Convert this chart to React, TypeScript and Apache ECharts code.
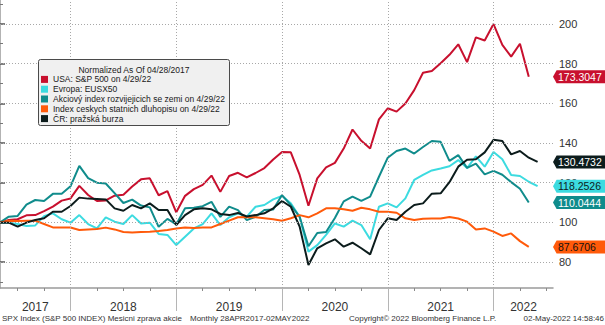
import React, { useEffect, useRef } from "react";
import * as echarts from "echarts";

// ---- data (monthly, index 0 = end of April 2017) ----
const seriesNames = [
  "USA: S&P 500 on 4/29/22",
  "Evropa: EUSX50",
  "Akciový index rozvijejicich se zemi on 4/29/22",
  "Index ceskych statnich dluhopisu on 4/29/22",
  "ČR: pražská burza",
];

const usaSP500 = [
  100, 101.2, 101.6, 103.6, 103.7, 105.7, 108.0, 111.0, 112.1,
  118.4, 113.8, 110.8, 111.1, 113.5, 114.0, 118.1, 121.7, 122.2, 113.7, 115.8, 105.1,
  113.4, 116.8, 118.9, 123.6, 115.4, 123.4, 125.0, 122.7, 124.9, 127.4, 131.7, 135.5,
  135.3, 123.9, 108.4, 122.2, 127.7, 130.0, 137.2, 146.8, 141.1, 137.2, 151.9, 157.5,
  155.8, 159.9, 166.6, 175.4, 176.3, 180.2, 184.4, 189.7, 180.7, 193.2, 191.6, 199.9,
  189.4, 183.5, 190.0, 173.3047,
];

const evropaEUSX50 = [
  100, 99.9, 99.2, 98.2, 98.5, 103.2, 104.6, 101.6, 99.9,
  103.7, 99.2, 97.0, 102.6, 100.4, 99.2, 103.7, 99.5, 99.9, 94.2, 93.7, 88.6,
  92.8, 97.0, 99.2, 104.6, 98.7, 102.6, 104.6, 102.9, 107.9, 108.8, 111.6, 113.3,
  109.6, 102.9, 85.3, 88.6, 93.7, 99.5, 97.9, 100.9, 98.7, 91.5, 107.9, 109.6,
  107.6, 112.1, 121.4, 123.9, 126.2, 127.2, 128.3, 131.4, 127.4, 133.3, 128.1, 135.5,
  131.8, 123.9, 123.4, 120.5, 118.2526,
];

const emergingMarkets = [
  100, 102.9, 103.3, 109.0, 111.3, 110.8, 114.4, 114.5, 118.2,
  128.5, 122.3, 120.0, 119.6, 114.8, 109.8, 111.5, 108.5, 107.6, 97.8, 101.8, 99.0,
  107.2, 107.4, 108.2, 110.4, 102.8, 108.0, 106.2, 101.2, 102.9, 106.3, 106.5, 113.8,
  108.7, 102.8, 88.0, 94.7, 95.2, 102.2, 110.6, 113.0, 110.9, 113.0, 123.0, 132.6,
  136.0, 137.2, 134.7, 138.0, 141.0, 140.6, 131.0, 133.9, 127.5, 129.6, 124.2, 126.0,
  124.0, 120.3, 117.0, 110.0444,
];

const czechGovBonds = [
  100, 100.9, 100.7, 100.9, 100.9, 99.2, 97.5, 97.5, 97.5,
  96.2, 96.5, 96.7, 97.4, 96.5, 95.2, 95.0, 95.2, 95.3, 95.7, 96.2, 97.0,
  97.5, 97.2, 97.5, 97.5, 99.2, 100.9, 102.6, 102.8, 102.6, 102.1, 101.6, 100.9,
  102.1, 103.7, 102.6, 104.6, 107.1, 107.1, 106.6, 105.9, 107.4, 106.6, 105.4, 105.4,
  104.9, 102.1, 101.2, 101.9, 102.0, 102.0, 102.7, 102.0, 100.4, 96.5, 97.0, 95.4,
  93.2, 94.5, 90.6, 87.6706,
];

const pragueExchange = [
  100, 99.9, 97.9, 99.9, 101.2, 102.1, 105.4, 105.4, 108.3,
  112.5, 112.0, 111.8, 111.6, 107.1, 105.9, 108.8, 107.1, 109.6, 106.3, 106.3, 98.7,
  103.7, 106.6, 107.1, 106.6, 104.3, 103.7, 104.8, 103.0, 103.7, 104.6, 107.1, 110.8,
  107.9, 97.9, 78.6, 87.0, 89.5, 91.5, 87.8, 89.8, 87.0, 83.9, 96.2, 102.1,
  101.2, 105.4, 108.8, 109.6, 114.5, 114.7, 120.3, 128.1, 131.6, 131.8, 135.3, 141.6,
  141.0, 134.3, 136.0, 132.6, 130.4732,
];

const yearLabels = ["2017", "2018", "2019", "2020", "2021", "2022"];
const yearLabelPositions = [4, 14, 26, 38, 50, 59.4];
const yearBoundaries = [8, 20, 32, 44, 56];
const quarterTicks = [2, 5, 8, 11, 14, 17, 20, 23, 26, 29, 32, 35, 38, 41, 44, 47, 50, 53, 56, 59, 62];
const majorYTicks = [80, 100, 120, 140, 160, 180, 200];
const minorYTicks = [70, 90, 110, 130, 150, 170, 190, 210];

const legendTitle = "Normalized As Of 04/28/2017";
const footerLeft = "SPX Index (S&P 500 INDEX) Mesicni zprava akcie";
const footerRange = "Monthly 28APR2017-02MAY2022";
const footerCopyright = "Copyright© 2022 Bloomberg Finance L.P.";
const footerStamp = "02-May-2022 14:58:46";

const X_MAX = 62.75;
const Y_MIN = 67;
const Y_MAX = 212;
const FONT = "'Liberation Sans', Arial, sans-serif";

const lineColors = ["#c8102e", "#3cdbe0", "#108c8c", "#ff5a0a", "#0c1c1c"];
const tagTextColors = ["#ffffff", "#0c1c1c", "#ffffff", "#111111", "#ffffff"];
const allSeries = [usaSP500, evropaEUSX50, emergingMarkets, czechGovBonds, pragueExchange];

const TAG_PATH = "path://M0 6.5 L4 0 L60 0 L60 13 L4 13 Z";

function buildOption() {
  const lineSeries = allSeries.map((vals, k) => {
    const last = vals[vals.length - 1];
    return {
      name: seriesNames[k],
      type: "line",
      xAxisIndex: 0,
      yAxisIndex: 0,
      data: vals.map((v, i) => [i, v]),
      symbol: "none",
      z: 3,
      lineStyle: { color: lineColors[k], width: 2 },
      itemStyle: { color: lineColors[k] },
      emphasis: { disabled: true },
      markPoint: {
        silent: true,
        symbol: TAG_PATH,
        symbolSize: [54, 13],
        symbolKeepAspect: false,
        symbolOffset: [27, 0],
        itemStyle: { color: lineColors[k] },
        label: {
          show: true,
          position: "insideLeft",
          distance: 5,
          color: tagTextColors[k],
          fontSize: 10.5,
          fontFamily: FONT,
          formatter: () => last.toFixed(4),
        },
        data: [{ coord: [X_MAX, last], value: last }],
      },
    };
  });

  const gridLineSeries = {
    name: "grid",
    type: "line",
    data: [],
    z: 1,
    silent: true,
    markLine: {
      silent: true,
      symbol: ["none", "none"],
      label: { show: false },
      lineStyle: { color: "#a8a8a8", type: [1, 2], width: 1 },
      emphasis: { disabled: true },
      data: [
        ...yearBoundaries.map((x) => ({ xAxis: x })),
        ...majorYTicks.map((y) => ({ yAxis: y })),
      ],
    },
  };

  return {
    animation: false,
    grid: { left: 0, top: 0, width: 553, height: 288, containLabel: false, outerBoundsMode: "none" },
    legend: {
      data: seriesNames,
      orient: "vertical",
      left: 41,
      top: 74.5,
      padding: 0,
      itemGap: 0,
      itemWidth: 7,
      itemHeight: 7,
      icon: "rect",
      selectedMode: false,
      z: 8,
      textStyle: { fontSize: 8.5, color: "#1a1a1a", fontFamily: FONT, lineHeight: 9.8 },
    },
    xAxis: [
      {
        type: "value",
        min: 0,
        max: X_MAX,
        position: "bottom",
        axisLine: { show: true, onZero: false, lineStyle: { color: "#9a9a9a", width: 1.5 } },
        axisTick: { show: true, customValues: quarterTicks, length: 3, lineStyle: { color: "#8a8a8a" } },
        axisLabel: {
          show: true,
          customValues: yearLabelPositions,
          formatter: (v: number) => {
            const idx = yearLabelPositions.findIndex((p) => Math.abs(p - v) < 0.01);
            return idx >= 0 ? yearLabels[idx] : "";
          },
          margin: 13,
          fontSize: 12,
          color: "#333333",
          fontFamily: FONT,
        },
        splitLine: { show: false },
      },
      {
        type: "value",
        min: 0,
        max: X_MAX,
        position: "bottom",
        axisLine: { show: false, onZero: false },
        axisTick: { show: true, customValues: yearBoundaries, length: 23, lineStyle: { color: "#b5b5b5" } },
        axisLabel: { show: false },
        splitLine: { show: false },
      },
    ],
    yAxis: [
      {
        type: "value",
        position: "right",
        min: Y_MIN,
        max: Y_MAX,
        axisLine: { show: true, lineStyle: { color: "#9a9a9a", width: 1.5 } },
        axisTick: { show: true, customValues: majorYTicks, length: 5, lineStyle: { color: "#555555", width: 1.5 } },
        axisLabel: {
          show: true,
          customValues: majorYTicks,
          margin: 6,
          fontSize: 11,
          color: "#333333",
          fontFamily: FONT,
        },
        splitLine: { show: false },
      },
      {
        type: "value",
        position: "right",
        min: Y_MIN,
        max: Y_MAX,
        axisLine: { show: false },
        axisTick: { show: true, customValues: minorYTicks, length: 3, lineStyle: { color: "#777777" } },
        axisLabel: { show: false },
        splitLine: { show: false },
      },
    ],
    graphic: [
      {
        type: "rect",
        z: 6,
        shape: { x: 38.5, y: 59.5, width: 191, height: 66, r: 2 },
        style: { fill: "#f0f0f0", stroke: "#4a4a4a", lineWidth: 1 },
      },
      {
        type: "text",
        z: 7,
        x: 134,
        y: 69.5,
        style: {
          text: legendTitle,
          fontSize: 8.5,
          fontFamily: FONT,
          fill: "#1a1a1a",
          align: "center",
          verticalAlign: "middle",
        },
      },
      {
        type: "text",
        x: 2,
        y: 318,
        style: { text: footerLeft, fontSize: 8, fontFamily: FONT, fill: "#333333", verticalAlign: "middle" },
      },
      {
        type: "text",
        x: 190,
        y: 318,
        style: { text: footerRange, fontSize: 8, fontFamily: FONT, fill: "#333333", verticalAlign: "middle" },
      },
      {
        type: "text",
        x: 349,
        y: 318,
        style: { text: footerCopyright, fontSize: 8, fontFamily: FONT, fill: "#333333", verticalAlign: "middle" },
      },
      {
        type: "text",
        x: 604,
        y: 318,
        style: {
          text: footerStamp,
          fontSize: 8,
          fontFamily: FONT,
          fill: "#333333",
          align: "right",
          verticalAlign: "middle",
        },
      },
    ],
    series: [gridLineSeries, ...lineSeries],
  };
}

export default function App() {
  const ref = useRef<HTMLDivElement>(null);
  useEffect(() => {
    if (!ref.current) return;
    const chart = echarts.init(ref.current, null, { renderer: "svg" });
    chart.setOption(buildOption() as any);
    return () => {
      chart.dispose();
    };
  }, []);
  return (
    <div
      ref={ref}
      style={{ position: "fixed", left: 0, top: 0, width: 605, height: 325, background: "#ffffff" }}
    />
  );
}
